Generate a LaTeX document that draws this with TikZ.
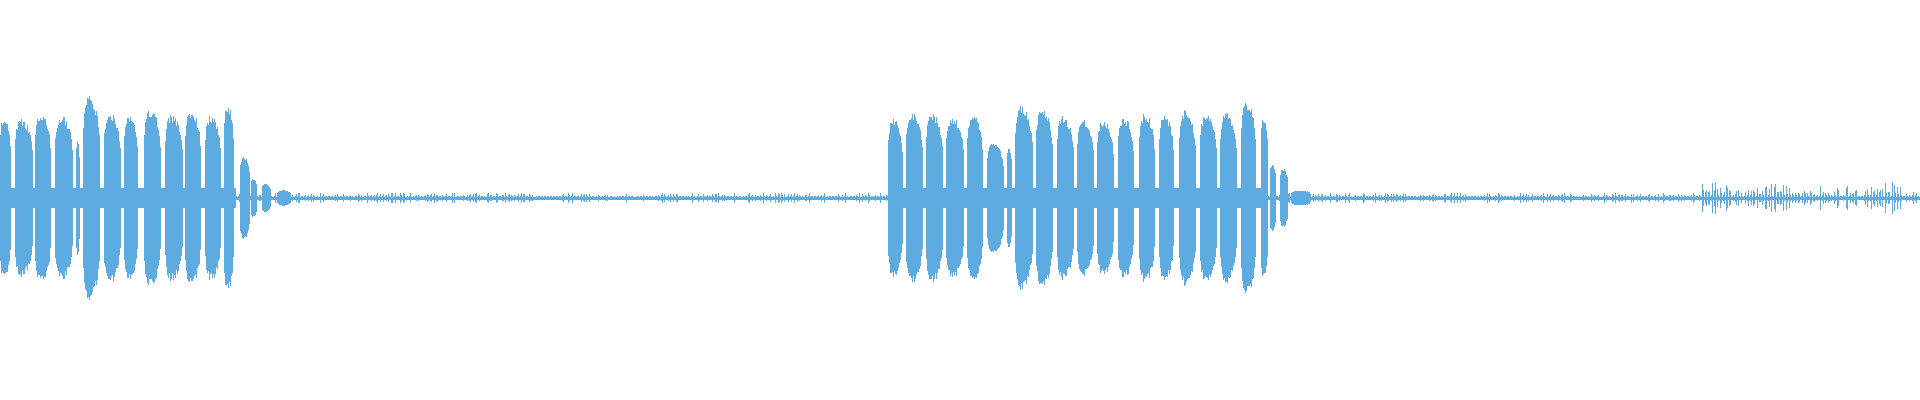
\documentclass[tikz,border=0pt]{standalone}
\definecolor{wave}{HTML}{5DABE1}
\begin{document}
\begin{tikzpicture}[x=0.01cm,y={(0,-0.01cm)}]
\useasboundingbox[fill=white] (0,0) rectangle (1920,400);
\pgfmathsetseed{7}
\tikzset{bar/.style={fill=wave}}
% baseline
\fill[bar] (0,196.5) rectangle (1920,199.5);
% inter-pulse bands within bursts
\fill[bar] (0,188) rectangle (236,208);
\fill[bar] (888,188) rectangle (1262,208);
% baseline noise
\foreach \x in {236,237.5,...,1918}{
  \pgfmathsetmacro\h{ifthenelse(\x>1700,2+15*rnd^2*(0.3+0.7*abs(sin(\x*3.1))),1.5+4*rnd^3)}
  \fill[bar] (\x,198-\h) rectangle (\x+1.1,198+\h);
}
% pulses: start/end/amplitude
\foreach \a/\b/\m in {
 0/10/83, 15/32/80, 35/50/86, 55/72/83, 76/79/58, 83/99/103, 104/120/86,
 124/137/83, 144/160/90, 165/182/84, 185/200/89, 205/220/83, 224/233/96,
 240/249/42, 251/256/20, 262/270/15, 278/290/8,
 888/902/80, 906/922/86, 926/942/86, 946/963/82, 967/982/84, 987/1003/56,
 1007/1011/54, 1015/1032/93, 1036/1052/91, 1057/1073/83, 1077/1093/80,
 1097/1113/79, 1118/1133/82, 1139/1154/86, 1159/1173/84, 1179/1195/89,
 1200/1216/86, 1220/1236/86, 1241/1255/98, 1261/1267/83, 1270/1275/35,
 1280/1287/30, 1292/1310/8}{
  \pgfmathtruncatemacro\w{\b-\a}
  \foreach \i in {0,...,\w}{
    \pgfmathsetmacro\t{(\i+0.5)/(\w+1)}
    \pgfmathsetmacro\h{\m*(sin(180*\t))^0.15*(1.08-0.2*\t)*(0.9+0.1*rnd)}
    \fill[bar] (\a+\i,198-\h) rectangle (\a+\i+1.05,198+\h);
  }
}
\end{tikzpicture}
\end{document}
